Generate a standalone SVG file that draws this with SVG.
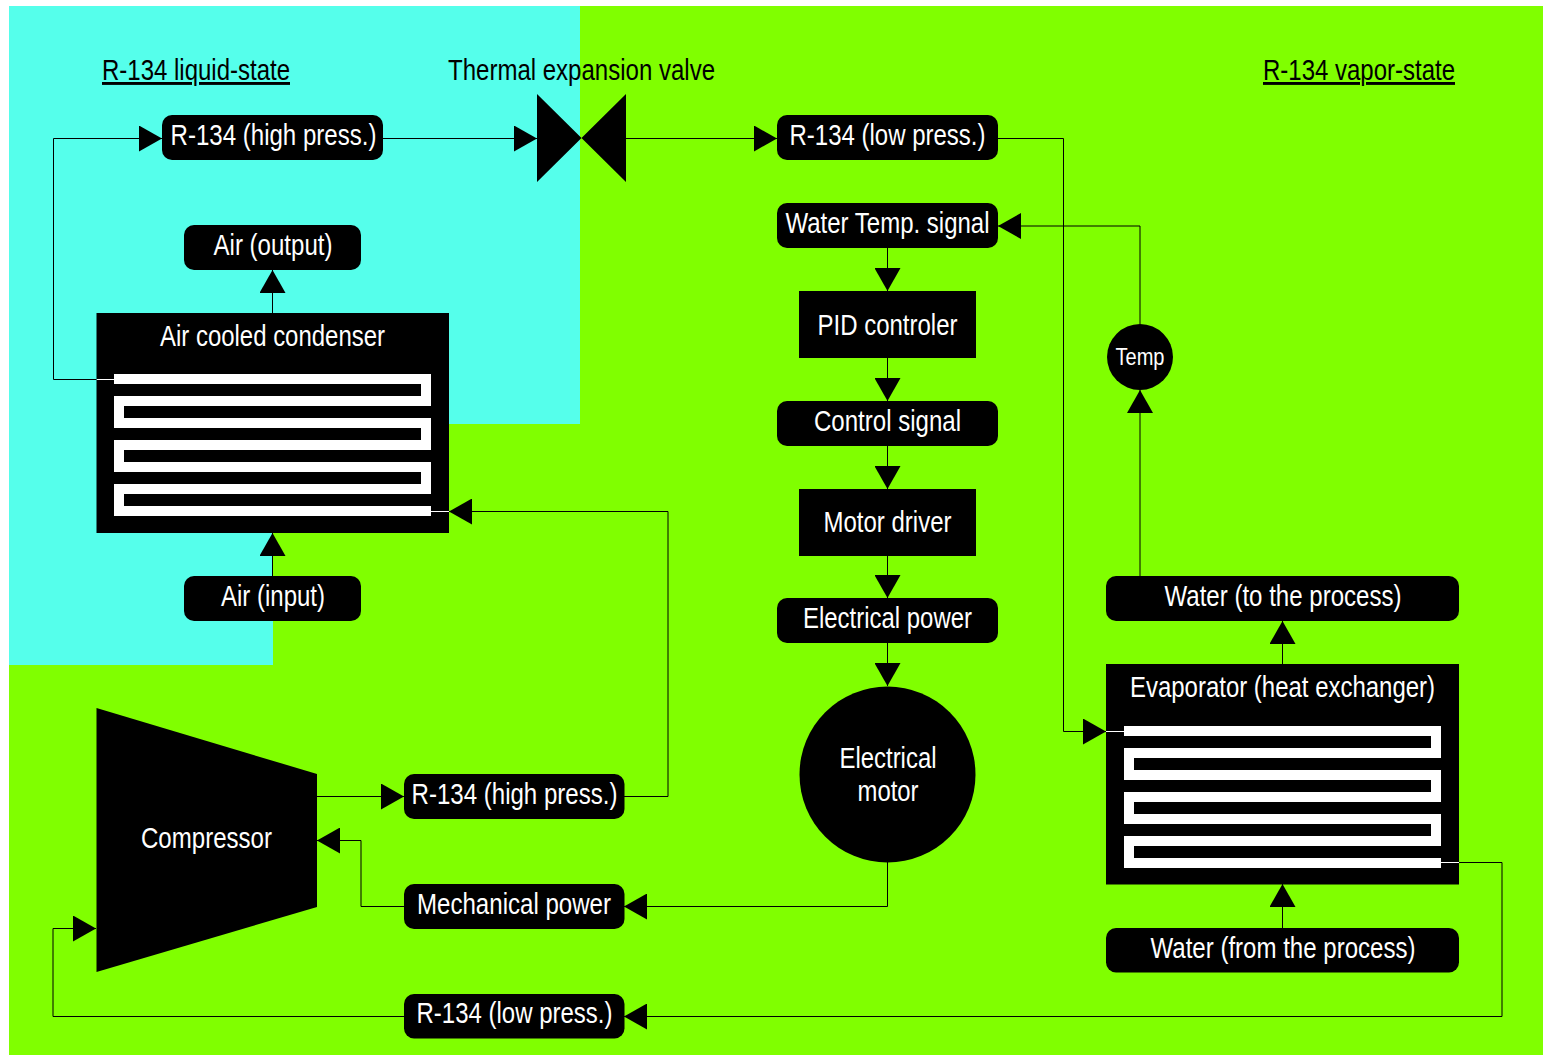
<svg xmlns="http://www.w3.org/2000/svg" width="1543" height="1055" viewBox="0 0 1543 1055">
<style>
text{font-family:"Liberation Sans",Arial,sans-serif;font-size:29px;text-anchor:middle}
.w{fill:#fff}.k{fill:#000}.u{text-decoration:underline}
.c{fill:none;stroke:#000;stroke-width:1;marker-end:url(#a)}
.l{fill:none;stroke:#000;stroke-width:1}
.coil{fill:none;stroke:#fff;stroke-width:10}
.t{fill:none;stroke:#fff;stroke-width:1}
</style>
<defs><marker id="a" markerUnits="userSpaceOnUse" markerWidth="24" markerHeight="26" refX="23" refY="13" orient="auto"><path d="M0 0L23 13L0 26Z" fill="#000"/></marker></defs>
<rect width="1543" height="1055" fill="#fff"/>
<rect id="bg-vapor" x="9" y="6" width="1534" height="1049" fill="#80ff00"/>
<polygon id="bg-liquid" points="9,6 580,6 580,424 449,424 449,533 273,533 273,665 9,665" fill="#55ffeb"/>
<g id="labels">
<text class="k u" x="196" y="80" textLength="188" lengthAdjust="spacingAndGlyphs">R-134 liquid-state</text>
<text class="k" x="581.500" y="80" textLength="267" lengthAdjust="spacingAndGlyphs">Thermal expansion valve</text>
<text class="k u" x="1359" y="80" textLength="192" lengthAdjust="spacingAndGlyphs">R-134 vapor-state</text>
</g>
<g id="connectors">
<path class="c" d="M96 379.500H53.500V138.500H162"/>
<path class="c" d="M383 138.500H537"/>
<path class="c" d="M626 138.500H777"/>
<path class="c" d="M998 138.500H1063.500V731.500H1106"/>
<path class="c" d="M272.500 313V270"/>
<path class="c" d="M272.500 576V533"/>
<path class="c" d="M624 796.500H668V511.500H449"/>
<path class="c" d="M317 796.500H404"/>
<path class="c" d="M404 906.500H361V840.500H317"/>
<path class="c" d="M887.500 862V906.500H624"/>
<path class="c" d="M1459 862.500H1502V1016.500H624"/>
<path class="c" d="M404 1016.500H53V928.500H96"/>
<path class="c" d="M887.500 248V291"/>
<path class="c" d="M887.500 358V401"/>
<path class="c" d="M887.500 446V489"/>
<path class="c" d="M887.500 556V598"/>
<path class="c" d="M887.500 643V686"/>
<path class="c" d="M1282.500 664V621"/>
<path class="c" d="M1282.500 928V884"/>
<path class="c" d="M1140 576V390"/>
<path class="c" d="M1140 324V226H998"/>
</g>
<g id="valve"><polygon class="k" points="537,94 581.500,138 626,94 626,182 581.500,138 537,182"/></g>
<g id="n-high1"><rect x="162" y="115" width="221" height="45" rx="10"/><text class="w" x="273.500" y="145" textLength="206" lengthAdjust="spacingAndGlyphs">R-134 (high press.)</text></g>
<g id="n-air-out"><rect x="184" y="225" width="177" height="45" rx="10"/><text class="w" x="273" y="255" textLength="119" lengthAdjust="spacingAndGlyphs">Air (output)</text></g>
<g id="n-condenser"><rect x="96.500" y="313" width="352.500" height="220"/><text class="w" x="272.500" y="346" textLength="225" lengthAdjust="spacingAndGlyphs">Air cooled condenser</text>
<path class="coil" d="M114 379H426V401H119V423H426V445H119V467H426V489H119V511H431"/><path class="t" d="M97 379.500H114M431 511.500H449"/></g>
<g id="n-air-in"><rect x="184" y="576" width="177" height="45" rx="10"/><text class="w" x="273" y="606" textLength="104" lengthAdjust="spacingAndGlyphs">Air (input)</text></g>
<g id="n-low1"><rect x="777" y="115" width="221" height="45" rx="10"/><text class="w" x="887.500" y="145" textLength="196" lengthAdjust="spacingAndGlyphs">R-134 (low press.)</text></g>
<g id="n-temp-signal"><rect x="777" y="203" width="221" height="45" rx="10"/><text class="w" x="887.500" y="233" textLength="204" lengthAdjust="spacingAndGlyphs">Water Temp. signal</text></g>
<g id="n-pid"><rect x="799" y="291" width="177" height="67"/><text class="w" x="887.500" y="335" textLength="140" lengthAdjust="spacingAndGlyphs">PID controler</text></g>
<g id="n-control"><rect x="777" y="401" width="221" height="45" rx="10"/><text class="w" x="887.500" y="431" textLength="147" lengthAdjust="spacingAndGlyphs">Control signal</text></g>
<g id="n-driver"><rect x="799" y="489" width="177" height="67"/><text class="w" x="887.500" y="532" textLength="128" lengthAdjust="spacingAndGlyphs">Motor driver</text></g>
<g id="n-power"><rect x="777" y="598" width="221" height="45" rx="10"/><text class="w" x="887.500" y="628" textLength="169" lengthAdjust="spacingAndGlyphs">Electrical power</text></g>
<g id="n-motor"><circle cx="887.500" cy="774.500" r="88"/><text class="w" x="888" y="768" textLength="97" lengthAdjust="spacingAndGlyphs">Electrical</text><text class="w" x="888" y="801" textLength="61" lengthAdjust="spacingAndGlyphs">motor</text></g>
<g id="n-temp"><circle cx="1140" cy="357" r="33"/><text class="w" x="1140" y="365" style="font-size:24px" textLength="49" lengthAdjust="spacingAndGlyphs">Temp</text></g>
<g id="n-water-to"><rect x="1106" y="576" width="353" height="45" rx="10"/><text class="w" x="1283" y="606" textLength="237" lengthAdjust="spacingAndGlyphs">Water (to the process)</text></g>
<g id="n-evaporator"><rect x="1106" y="664" width="353" height="220.500"/><text class="w" x="1282.500" y="697" textLength="305" lengthAdjust="spacingAndGlyphs">Evaporator (heat exchanger)</text>
<path class="coil" d="M1124 731H1436V753H1129V775H1436V797H1129V819H1436V841H1129V863H1441"/><path class="t" d="M1106 731.500H1124M1441 862.500H1459"/></g>
<g id="n-water-from"><rect x="1106" y="928" width="353" height="44.500" rx="10"/><text class="w" x="1283" y="958" textLength="265" lengthAdjust="spacingAndGlyphs">Water (from the process)</text></g>
<g id="n-compressor"><polygon class="k" points="96.500,708 317,774 317,907 96.500,972"/><text class="w" x="206.500" y="848" textLength="131" lengthAdjust="spacingAndGlyphs">Compressor</text></g>
<g id="n-high2"><rect x="404" y="774" width="220.500" height="45" rx="10"/><text class="w" x="514.500" y="804" textLength="206" lengthAdjust="spacingAndGlyphs">R-134 (high press.)</text></g>
<g id="n-mech"><rect x="404" y="884" width="220.500" height="45" rx="10"/><text class="w" x="514" y="914" textLength="194" lengthAdjust="spacingAndGlyphs">Mechanical power</text></g>
<g id="n-low2"><rect x="404" y="994" width="220.500" height="44.500" rx="10"/><text class="w" x="514.500" y="1023" textLength="196" lengthAdjust="spacingAndGlyphs">R-134 (low press.)</text></g>
</svg>
